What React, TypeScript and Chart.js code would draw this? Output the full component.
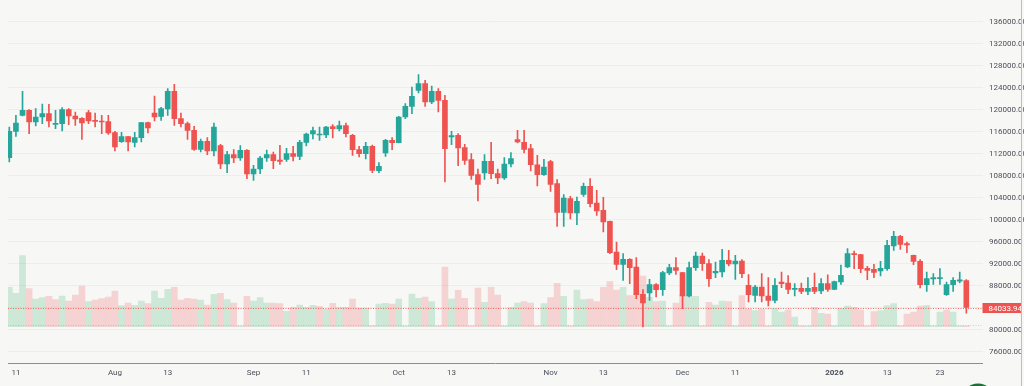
import { useEffect, useRef } from "react";
import { Chart, registerables } from "chart.js";

Chart.register(...registerables);

// Daily trading sessions (weekdays) from 10 Jul 2025 to 29 Jan 2026, indexed 0..145
const openP = [
  111275, 116062, 118971, 119880, 117759, 118668, 119274, 117335, 117456, 120001,
  118850, 118426, 119456, 118062, 117941, 117820, 115820, 114184, 115093, 114062,
  114911, 117638, 119395, 118789, 120123, 123334, 118365, 117456, 116244, 112790,
  114244, 112487, 113456, 110124, 111820, 111214, 112608, 108305, 109214, 111214,
  111820, 110851, 110972, 112002, 111517, 114062, 115577, 115396, 115396, 116911,
  116487, 117093, 115335, 112729, 112002, 113335, 108911, 112123, 114426, 114002,
  118668, 120607, 123516, 124728, 121395, 123334, 121698, 115032, 115335, 113093,
  110911, 108184, 108487, 110608, 108366, 107578, 110124, 114547, 114062, 112911,
  109997, 108184, 110548, 106548, 101334, 103821, 101215, 104609, 106064, 103033,
  101700, 99700, 94125, 91883, 92792, 91398, 86429, 86672, 88187, 87277,
  90307, 91277, 90368, 86126, 91277, 93398, 92004, 90307, 90489, 92610,
  91944, 92489, 88065, 86247, 87762, 86126, 85338, 88671, 88489, 87338,
  87520, 86975, 87702, 87035, 88368, 87338, 88671, 91398, 93822, 93640,
  91156, 90974, 90671, 91095, 95216, 96973, 95640, 93519, 92428, 88187,
  89216, 89277, 86368, 88187, 88823, 88944,
];

const highP = [
  116850, 118971, 123334, 120001, 120183, 121031, 120971, 119880, 120365, 120183,
  119577, 118547, 119880, 119395, 118971, 118971, 116062, 115880, 115153, 115880,
  117698, 117759, 122486, 120425, 123819, 124607, 119395, 117759, 116972, 114668,
  114911, 117577, 113699, 112426, 112729, 113456, 112729, 109881, 111517, 112669,
  112305, 113517, 112972, 113335, 114426, 115759, 116850, 116850, 116972, 117274,
  117941, 117577, 115517, 113335, 114062, 113578, 110366, 114608, 114911, 118789,
  121092, 124122, 126364, 125334, 124304, 123819, 122607, 116062, 115638, 113699,
  112002, 109214, 111820, 114062, 109214, 111275, 112184, 116244, 116244, 113699,
  111699, 110972, 110790, 107275, 104548, 104245, 104124, 106670, 107457, 105336,
  104064, 99761, 95943, 93822, 92913, 93095, 87277, 89156, 88368, 90610,
  91883, 93095, 90429, 92307, 94125, 93943, 92731, 92307, 94610, 94428,
  93519, 92731, 90004, 88065, 90186, 89459, 89277, 90489, 89853, 88368,
  88489, 89459, 90307, 89277, 89974, 88853, 91762, 94731, 94307, 93701,
  91519, 91883, 92428, 96246, 97882, 97155, 95943, 93580, 92731, 90489,
  90186, 91095, 88671, 89459, 90489, 89125,
];

const lowP = [
  110487, 115153, 118850, 115638, 117032, 117456, 116850, 116547, 116123, 117274,
  117153, 114608, 117456, 116850, 115638, 115517, 112487, 114062, 112487, 113214,
  114123, 115759, 117941, 118062, 118971, 117153, 116850, 114608, 112608, 112305,
  111820, 111578, 109275, 108548, 110366, 110790, 107457, 107154, 108366, 110608,
  109275, 110063, 110608, 110669, 110911, 113396, 114668, 114426, 114911, 114850,
  116123, 115032, 111699, 111396, 111032, 108548, 108548, 111517, 112729, 113941,
  118365, 119274, 123031, 120607, 121092, 119577, 106851, 113638, 109820, 110063,
  107336, 103397, 107336, 107457, 106548, 107336, 109578, 113941, 112123, 108881,
  106124, 108063, 105155, 98792, 98792, 100124, 99095, 104245, 102306, 100791,
  97761, 93822, 90913, 88974, 88368, 85641, 80490, 85338, 85944, 86247,
  90004, 90065, 83823, 85944, 90792, 90792, 87883, 89459, 89580, 91580,
  89156, 89459, 85035, 85035, 85035, 84308, 84854, 87641, 86550, 86126,
  86550, 86368, 86550, 86550, 86975, 87277, 88247, 91277, 91095, 90368,
  89095, 89459, 89762, 90792, 94428, 94610, 94004, 91822, 87580, 86975,
  88247, 88247, 86247, 86975, 88489, 83004,
];

const closeP = [
  116062, 117577, 119880, 117759, 118668, 119274, 117941, 117517, 120001, 118850,
  118304, 117577, 117941, 117880, 117759, 115759, 113214, 115093, 114123, 114911,
  117638, 116668, 118668, 120183, 123334, 118365, 117456, 116244, 112790, 114244,
  112487, 116850, 110124, 111820, 111214, 112608, 108305, 109214, 111214, 111820,
  110729, 110608, 112002, 111517, 114062, 115577, 116183, 115517, 116850, 116547,
  117093, 115638, 112729, 112002, 113335, 108972, 109699, 114426, 114002, 118668,
  120607, 122425, 124728, 121395, 123334, 121698, 112911, 115274, 113032, 110790,
  108063, 106427, 110608, 108366, 107578, 110124, 111093, 114123, 112790, 109997,
  108184, 109578, 106427, 101334, 103942, 101215, 103336, 106064, 102912, 101579,
  99579, 94004, 91883, 92792, 91277, 86368, 84854, 88187, 87277, 90368,
  91277, 90792, 86126, 91277, 93398, 92004, 89277, 90610, 92610, 91944,
  92489, 90186, 86368, 87762, 86126, 85338, 88065, 88368, 87338, 87520,
  86975, 87520, 86975, 88368, 87338, 88732, 89883, 93822, 93640, 91095,
  90792, 90429, 91156, 95337, 96973, 95519, 95398, 92428, 88187, 89277,
  89459, 89459, 88187, 88974, 89065, 84033.94,
];

// Volume (thousands, relative)
const volume = [
  39.3, 33.3, 71, 38, 27.7, 29, 30.3, 27, 30.7, 25.7,
  31.7, 40.7, 25, 26.7, 28, 29.7, 35.7, 21, 23.7, 21.3,
  25.7, 23, 35.7, 28.3, 37.3, 39.3, 26.7, 28.3, 27.7, 26.7,
  21.7, 32.3, 33.3, 27, 23.7, 0.8, 30.3, 25.7, 29, 23.7,
  23.7, 23, 15.3, 19.3, 21.7, 19.3, 21.3, 20.3, 17.3, 23.3,
  19.3, 19.3, 27.7, 18.7, 18.7, 0.8, 22.7, 23.3, 22.7, 27.7,
  0.8, 32.7, 28.3, 29.7, 25, 0.8, 59.7, 27.7, 36.3, 28.3,
  0.8, 38.7, 24.3, 39.3, 31.7, 0.8, 19.3, 23.7, 25, 23.7,
  0.8, 23, 29, 43.3, 30.3, 0.8, 36.7, 27, 27.7, 25,
  39.3, 45, 36.7, 39.3, 31, 33, 50.7, 29.3, 25, 25.7,
  0.8, 23.7, 31.7, 30.3, 30.3, 0.8, 24.3, 21.7, 25.7, 25,
  0.8, 31, 17.3, 16, 17.3, 0.8, 18, 14.7, 16.7, 9.7,
  0.8, 0.8, 19.3, 13.3, 12.7, 0.8, 18.3, 20.7, 19.3, 16.7,
  0.8, 15, 16, 21, 23, 0.8, 12.7, 14.7, 20.7, 21.3,
  0.8, 14.7, 16.7, 14.7, 0.8, 0.8,
];

const tickIndex = [1, 16, 24, 37, 45, 59, 67, 82, 90, 102, 110, 125, 133, 141];
const tickText = ["11", "Aug", "13", "Sep", "11", "Oct", "13", "Nov", "13", "Dec", "11", "2026", "13", "23"];

const priceTicks = [
  76000, 80000, 84000, 88000, 92000, 96000, 100000, 104000, 108000, 112000,
  116000, 120000, 124000, 128000, 132000, 136000,
];

const UP = "#26a69a";
const DOWN = "#ef5350";
const UP_VOL = "rgba(79,184,122,0.25)";
const DOWN_VOL = "rgba(239,83,80,0.22)";
const FONT = "Roboto, 'Liberation Sans', sans-serif";

export default function App() {
  const ref = useRef<HTMLCanvasElement>(null);

  useEffect(() => {
    const idx = closeP.map((_, i) => i);
    const isUp = idx.map((i) => closeP[i] >= openP[i]);
    const volUp = idx.map((i) => i === 0 || closeP[i] >= closeP[i - 1]);
    const lastClose = closeP[closeP.length - 1];
    const lastVol = volume[volume.length - 1];

    const overlay = {
      id: "overlay",
      afterDatasetsDraw(chart: any) {
        const { ctx, chartArea, scales } = chart;
        const yP = scales.y.getPixelForValue(lastClose);
        const yV = scales.yv.getPixelForValue(lastVol);
        ctx.save();
        ctx.lineWidth = 1;
        ctx.setLineDash([1, 1.5]);
        ctx.strokeStyle = "rgba(239,83,80,0.85)";
        ctx.beginPath();
        ctx.moveTo(chartArea.left, Math.round(yP) + 0.5);
        ctx.lineTo(chartArea.right, Math.round(yP) + 0.5);
        ctx.stroke();
        ctx.strokeStyle = "rgba(239,83,80,0.35)";
        ctx.beginPath();
        ctx.moveTo(chartArea.left, Math.round(yV) - 0.5);
        ctx.lineTo(chartArea.right, Math.round(yV) - 0.5);
        ctx.stroke();
        ctx.restore();
      },
      afterDraw(chart: any) {
        const { ctx, chartArea, scales, width, height } = chart;
        const yP = scales.y.getPixelForValue(lastClose);
        ctx.save();
        // last price label
        ctx.fillStyle = DOWN;
        ctx.fillRect(chartArea.right, Math.round(yP) - 5, width - 2 - chartArea.right, 10);
        ctx.fillStyle = "#ffffff";
        ctx.font = `8px ${FONT}`;
        ctx.textBaseline = "middle";
        ctx.textAlign = "left";
        ctx.fillText(lastClose.toFixed(2), chartArea.right + 6, Math.round(yP) + 0.5);
        // right border
        ctx.strokeStyle = "#babcc8";
        ctx.lineWidth = 1;
        ctx.beginPath();
        ctx.moveTo(width - 2.5, 0);
        ctx.lineTo(width - 2.5, height);
        ctx.stroke();
        // logo badge
        ctx.fillStyle = "#1f6e3c";
        ctx.beginPath();
        ctx.arc(978, height + 14, 16.5, 0, Math.PI * 2);
        ctx.fill();
        ctx.restore();
      },
    };

    const chart = new Chart(ref.current as HTMLCanvasElement, {
      type: "bar",
      data: {
        datasets: [
          {
            label: "body",
            data: idx.map((i) => ({ x: i, y: [Math.min(openP[i], closeP[i]), Math.max(openP[i], closeP[i])] })) as any,
            backgroundColor: idx.map((i) => (isUp[i] ? UP : DOWN)),
            borderWidth: 0,
            barThickness: 5,
            minBarLength: 1,
            grouped: false,
            yAxisID: "y",
            order: 0,
          },
          {
            label: "wick",
            data: idx.map((i) => ({ x: i, y: [lowP[i], highP[i]] })) as any,
            backgroundColor: idx.map((i) => (isUp[i] ? UP : DOWN)),
            borderWidth: 0,
            barThickness: 1,
            grouped: false,
            yAxisID: "y",
            order: 1,
          },
          {
            label: "volume",
            data: idx.map((i) => ({ x: i, y: volume[i] })) as any,
            backgroundColor: idx.map((i) => (volUp[i] ? UP_VOL : DOWN_VOL)),
            borderWidth: 0,
            barThickness: 6,
            grouped: false,
            yAxisID: "yv",
            order: 2,
          },
        ],
      },
      options: {
        animation: false,
        responsive: false,
        maintainAspectRatio: false,
        events: [],
        layout: { padding: { left: 8, top: 0, right: 0, bottom: 0 } },
        plugins: { legend: { display: false }, tooltip: { enabled: false } },
        scales: {
          x: {
            type: "linear",
            min: -0.2,
            max: 147.45,
            offset: false,
            grid: { display: false, drawTicks: false, offset: false },
            border: { display: true, color: "#8a8ca0", width: 1 },
            afterBuildTicks: (s: any) => {
              s.ticks = tickIndex.map((v) => ({ value: v }));
            },
            afterFit: (s: any) => {
              s.height = 22.5;
              s.paddingLeft = 0;
              s.paddingRight = 0;
            },
            ticks: {
              autoSkip: false,
              maxRotation: 0,
              minRotation: 0,
              padding: 4.5,
              color: "#4b4e5a",
              font: (c: any) => ({
                family: FONT,
                size: 8,
                weight: c.tick && c.tick.label === "2026" ? "bold" : "normal",
              }),
              callback: (v: any) => {
                const k = tickIndex.indexOf(Number(v));
                return k >= 0 ? tickText[k] : "";
              },
            },
          },
          y: {
            type: "linear",
            position: "right",
            min: 73855,
            max: 139945,
            grid: { color: "#eceeec", lineWidth: 1, drawTicks: false },
            border: { display: false },
            afterBuildTicks: (s: any) => {
              s.ticks = priceTicks.map((v) => ({ value: v }));
            },
            afterFit: (s: any) => {
              s.width = 41.5;
              s.paddingTop = 0;
              s.paddingBottom = 0;
            },
            ticks: {
              padding: 6.5,
              color: "#4b4e5a",
              font: { family: FONT, size: 8 },
              callback: (v: any) => Number(v).toFixed(2),
            },
          },
          yv: {
            type: "linear",
            display: false,
            min: -36.8,
            max: 326.7,
            grid: { display: false },
          },
        },
      },
      plugins: [overlay],
    });

    return () => chart.destroy();
  }, []);

  return (
    <div
      style={{
        position: "fixed",
        left: 0,
        top: 0,
        width: 1024,
        height: 386,
        background: "#f7f8f6",
        overflow: "hidden",
      }}
    >
      <canvas ref={ref} width={1024} height={386} style={{ display: "block" }} />
    </div>
  );
}
